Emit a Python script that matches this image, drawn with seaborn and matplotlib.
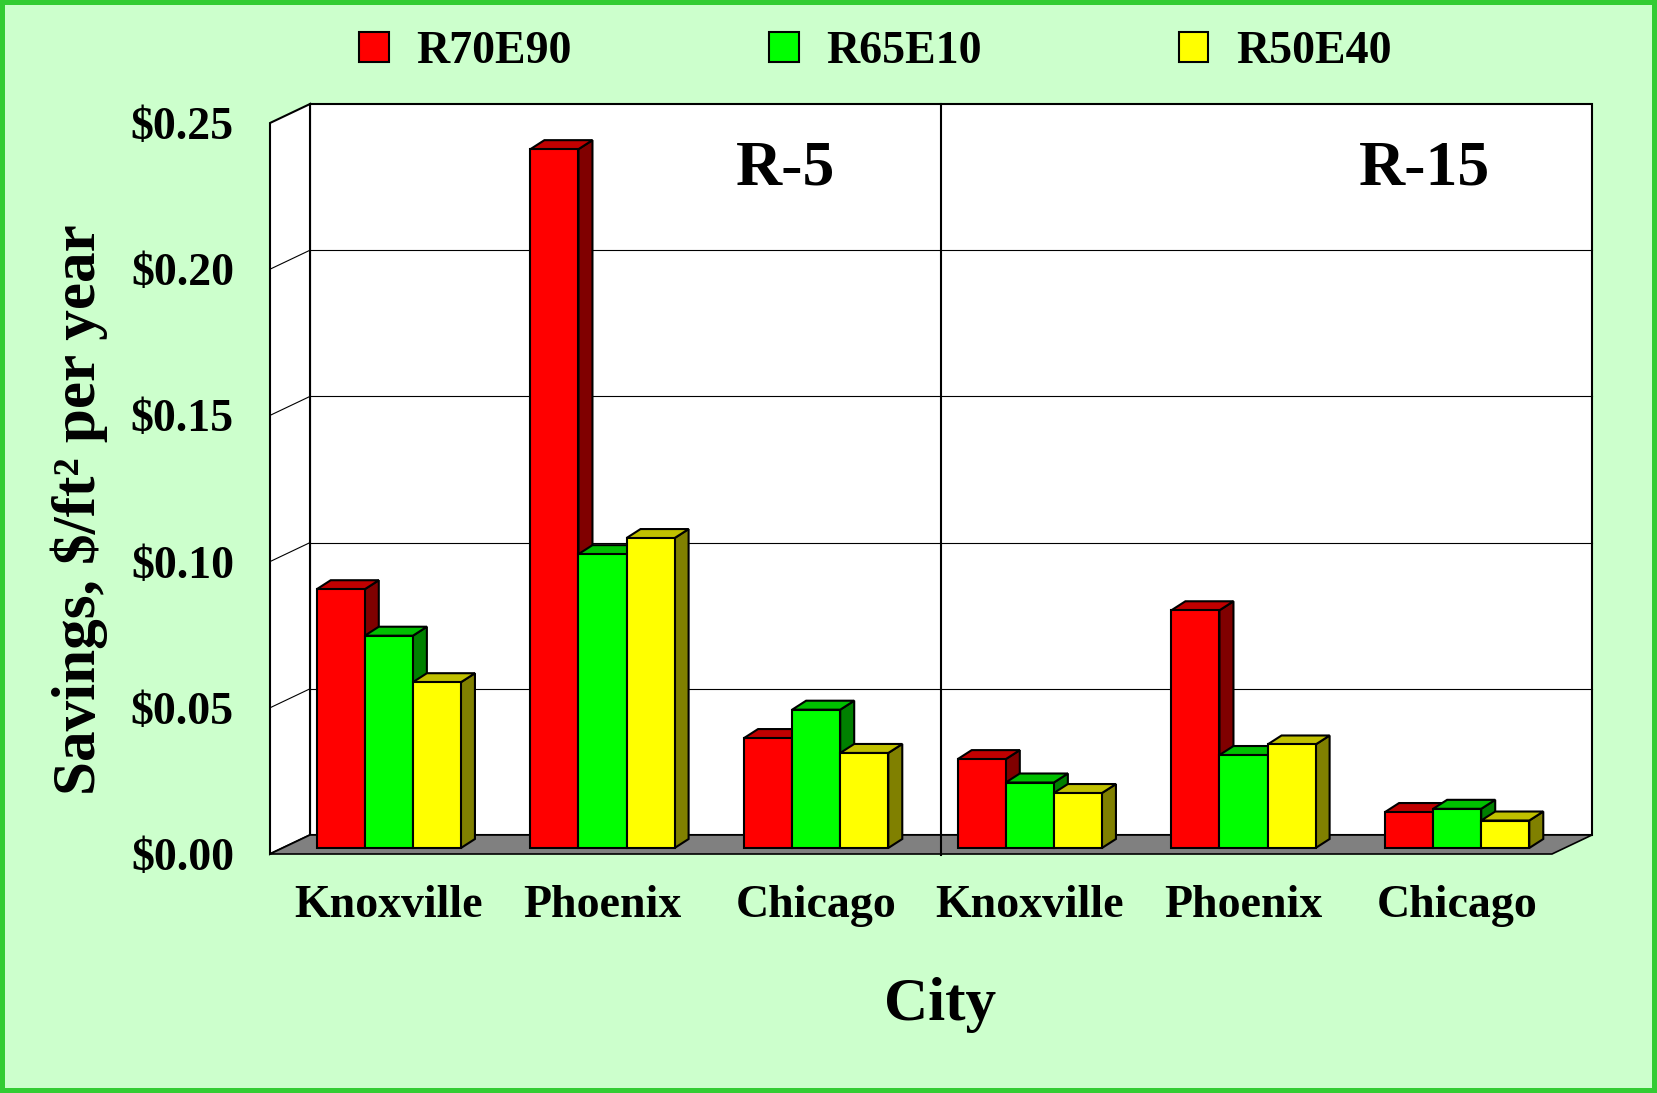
import numpy as np
import pandas as pd
import matplotlib
matplotlib.use('Agg')
import matplotlib.pyplot as plt
from matplotlib.patches import Polygon, Patch
from matplotlib.colors import to_rgb
import seaborn as sns

# data
cities = ['Knoxville', 'Phoenix', 'Chicago']
insulation = ['R-5', 'R-15']
systems = ['R70E90', 'R65E10', 'R50E40']

# savings, $/ft2 per year (Knoxville, Phoenix, Chicago)
r5_r70e90 = [0.0885, 0.239, 0.0376]
r5_r65e10 = [0.0726, 0.1005, 0.0473]
r5_r50e40 = [0.0567, 0.106, 0.0325]
r15_r70e90 = [0.0304, 0.0813, 0.0123]
r15_r65e10 = [0.0224, 0.0318, 0.0134]
r15_r50e40 = [0.0188, 0.0354, 0.0094]

yticks = [0.0, 0.05, 0.10, 0.15, 0.20, 0.25]
ytick_labels = ['$0.00', '$0.05', '$0.10', '$0.15', '$0.20', '$0.25']

front_colors = ['#FF0000', '#00FF00', '#FFFF00']
top_colors = ['#C00000', '#00C000', '#C0C000']
side_colors = ['#800000', '#008000', '#808000']

rows = []
series = {'R-5': [r5_r70e90, r5_r65e10, r5_r50e40],
          'R-15': [r15_r70e90, r15_r65e10, r15_r50e40]}
for ins in insulation:
    for sys_name, vals in zip(systems, series[ins]):
        for c, v in zip(cities, vals):
            rows.append({'group': f'{c} {ins}', 'system': sys_name, 'savings': v})
df = pd.DataFrame(rows)
order = [f'{c} {ins}' for ins in insulation for c in cities]

plt.rcParams['font.family'] = ['Liberation Serif', 'DejaVu Serif']
plt.rcParams['font.weight'] = 'bold'
plt.rcParams['axes.labelweight'] = 'bold'

fig = plt.figure(figsize=(16.57, 10.93), dpi=100)
fig.patch.set_facecolor('#CCFFCC')
fig.patch.set_edgecolor('#33CC33')
fig.patch.set_linewidth(6)

ax = fig.add_axes([270 / 1657, 1 - 854 / 1093, 1282 / 1657, 731 / 1093])
ax.set_facecolor('none')

sns.barplot(data=df, x='group', y='savings', hue='system', order=order,
            hue_order=systems, palette=front_colors, saturation=1, width=0.675,
            edgecolor='black', linewidth=1.5, errorbar=None, legend=False,
            zorder=3, ax=ax)
bars = list(ax.patches)

ax.set_xlim(-0.5, 5.5)
ax.set_ylim(0, 0.25)
for s in ax.spines.values():
    s.set_visible(False)

# pixel -> data unit conversion (axes position is fixed)
p0 = ax.transData.transform((0, 0))
p1 = ax.transData.transform((1, 1))
sx, sy = p1[0] - p0[0], p1[1] - p0[1]
wdx, wdy = 40 / sx, 19 / sy      # wall depth
bdx, bdy = 14 / sx, 9 / sy       # bar depth
shx, shy = 12 / sx, 6 / sy       # bars sit a bit behind the front edge

xl, xr = -0.5, 5.5
ytop = yticks[-1]

def add_poly(pts, fc, z, lw=1.5):
    ax.add_patch(Polygon(pts, closed=True, facecolor=fc, edgecolor='black',
                         linewidth=lw, zorder=z, clip_on=False))

# back wall, side wall, floor
add_poly([(xl + wdx, wdy), (xr + wdx, wdy), (xr + wdx, ytop + wdy), (xl + wdx, ytop + wdy)], 'white', 0.5)
add_poly([(xl, 0), (xl + wdx, wdy), (xl + wdx, ytop + wdy), (xl, ytop)], 'white', 0.6)
for v in yticks[1:-1]:
    ax.plot([xl + wdx, xr + wdx], [v + wdy, v + wdy], color='black', lw=0.8, zorder=0.7, clip_on=False)
    ax.plot([xl, xl + wdx], [v, v + wdy], color='black', lw=0.8, zorder=0.7, clip_on=False)
add_poly([(xl, 0), (xr, 0), (xr + wdx, wdy), (xl + wdx, wdy)], '#808080', 0.8, lw=1.2)
ax.plot([2.5 + 30 / sx] * 2, [-1 / sy, ytop + wdy], color='black', lw=1.5, zorder=0.9, clip_on=False)

# pseudo 3D faces for each bar
front_rgb = [to_rgb(c) for c in front_colors]
for p in bars:
    rgb = tuple(round(c, 6) for c in to_rgb(p.get_facecolor()))
    k = front_rgb.index(rgb) if rgb in front_rgb else 0
    x0 = p.get_x() + shx
    w = p.get_width()
    h = p.get_height()
    p.set_x(x0)
    p.set_y(shy)
    p.set_clip_on(False)
    x1, base, top = x0 + w, shy, shy + h
    add_poly([(x1, base), (x1 + bdx, base + bdy), (x1 + bdx, top + bdy), (x1, top)], side_colors[k], 2)
    add_poly([(x0, top), (x1, top), (x1 + bdx, top + bdy), (x0 + bdx, top + bdy)], top_colors[k], 2)

ax.set_yticks(yticks)
ax.set_yticklabels(ytick_labels)
ax.set_xticks(np.arange(len(order)) + shx)
ax.set_xticklabels(cities * len(insulation))
ax.tick_params(axis='both', length=0, labelsize=33)
ax.tick_params(axis='y', pad=26)
ax.tick_params(axis='x', pad=22)

ax.set_xlabel('City', fontsize=44)
ax.xaxis.set_label_coords((940 - 270) / 1282, (854 - 977) / 731)
ax.set_ylabel('Savings, $/ft² per year', fontsize=44)
ax.yaxis.set_label_coords((108 - 270) / 1282, (854 - 510) / 731)

ax.text(1.915, 0.234, 'R-5', fontsize=46, ha='center', va='center', zorder=4)
ax.text(4.905, 0.234, 'R-15', fontsize=46, ha='center', va='center', zorder=4)

handles = [Patch(facecolor=c, edgecolor='black', linewidth=1.5) for c in front_colors]
fig.legend(handles, systems, loc='center left', bbox_to_anchor=(359 / 1657, 1 - 52 / 1093),
           ncol=3, frameon=False, fontsize=33, handlelength=0.65, handleheight=0.63,
           handletextpad=0.6, columnspacing=4.3, borderpad=0, borderaxespad=0)

fig.savefig('out.png', dpi=100, facecolor=fig.get_facecolor(), edgecolor=fig.get_edgecolor())
